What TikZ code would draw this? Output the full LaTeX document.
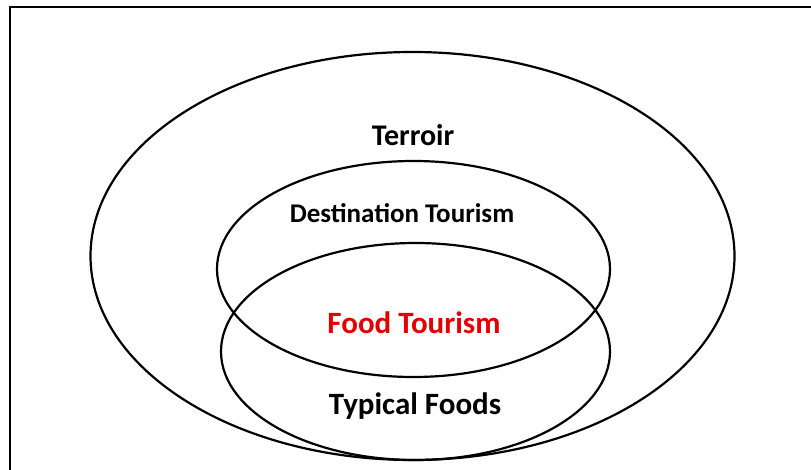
\documentclass[tikz,border=0pt]{standalone}
\usepackage{fontspec}
\setmainfont{Carlito}
\usepackage{tikz}
\usepackage{xcolor}

\definecolor{foodred}{RGB}{230,0,0}
\tikzset{
    ring/.style={black, line width=2.2pt},
    label/.style={font=\bfseries, inner sep=0pt}
}

\begin{document}
\begin{tikzpicture}[x=1pt, y=-1pt]
    \useasboundingbox (0,0) rectangle (811,470);
    % frame
    \draw[line width=1.5pt] (811,7) -- (10,7) -- (10,470);
    % circles
    \draw[ring] (412.5,256) ellipse (322 and 204);
    \draw[ring] (413.5,269) ellipse (196.5 and 108);
    \draw[ring] (415.5,351.5) ellipse (194.5 and 108.5);
    % texts
    \node[label, font=\fontsize{30}{33}\selectfont\bfseries] (terroir) at (413,135) {Terroir};
    \node[label, font=\fontsize{27}{30}\selectfont\bfseries] (dest) at (402,213) {Destination Tourism};
    \node[label, font=\fontsize{31}{34}\selectfont\bfseries, text=foodred] (food) at (414,323) {Food Tourism};
    \node[label, font=\fontsize{31}{34}\selectfont\bfseries] (typical) at (415,406) {Typical Foods};
\end{tikzpicture}
\end{document}
